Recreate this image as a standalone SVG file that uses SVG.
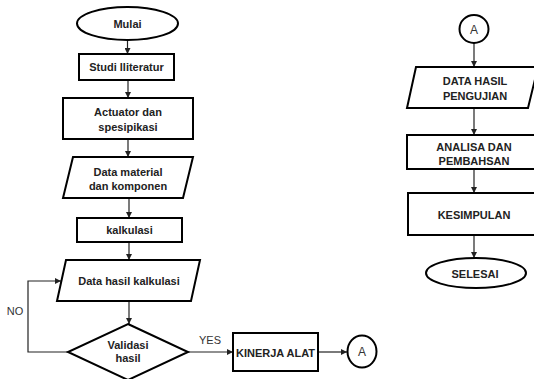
<svg xmlns="http://www.w3.org/2000/svg" width="534" height="379" viewBox="0 0 534 379">
<defs>
<style>
.s{fill:#fff;stroke:#000;stroke-width:2}
.t{font-family:"Liberation Sans",Arial,sans-serif;font-weight:bold;font-size:11px;fill:#222;text-anchor:middle;dominant-baseline:central}
.r{font-family:"Liberation Sans",Arial,sans-serif;font-size:11px;fill:#333;text-anchor:middle;dominant-baseline:central}
.c{fill:none;stroke:#222;stroke-width:1.2}
</style>
<marker id="ah" viewBox="0 0 8 8" refX="8" refY="4" markerWidth="6" markerHeight="6" orient="auto" markerUnits="userSpaceOnUse">
<path d="M0,0 L8,4 L0,8 z" fill="#222"/>
</marker>
</defs>
<rect width="534" height="379" fill="#fff"/>
<g id="connectors">
<path class="c" d="M127.5,40 V54" marker-end="url(#ah)"/>
<path class="c" d="M128,80 V98" marker-end="url(#ah)"/>
<path class="c" d="M128,139 V157" marker-end="url(#ah)"/>
<path class="c" d="M129,198 V218" marker-end="url(#ah)"/>
<path class="c" d="M129,242 V260" marker-end="url(#ah)"/>
<path class="c" d="M129,301 V324" marker-end="url(#ah)"/>
<path class="c" d="M68,352 H28 V281 H61" marker-end="url(#ah)"/>
<path class="c" d="M188,352 H233" marker-end="url(#ah)"/>
<path class="c" d="M318,352 H347" marker-end="url(#ah)"/>
<path class="c" d="M474,43 V67" marker-end="url(#ah)"/>
<path class="c" d="M474,108 V135" marker-end="url(#ah)"/>
<path class="c" d="M474,169 V193" marker-end="url(#ah)"/>
<path class="c" d="M474,235 V258" marker-end="url(#ah)"/>
<text class="r" x="15" y="311">NO</text>
<text class="r" x="210" y="340">YES</text>
</g>
<g id="mulai">
<ellipse class="s" cx="127.5" cy="23.5" rx="50.5" ry="16.5"/>
<text class="t" x="127.5" y="24">Mulai</text>
</g>
<g id="studi">
<rect class="s" x="79" y="54" width="95" height="26"/>
<text class="t" x="126.5" y="67">Studi lliteratur</text>
</g>
<g id="actuator">
<rect class="s" x="63" y="98" width="130" height="41"/>
<text class="t" x="128" y="112">Actuator dan</text>
<text class="t" x="128" y="127">spesipikasi</text>
</g>
<g id="datamaterial">
<polygon class="s" points="73,157 193,157 183,198 63,198"/>
<text class="t" x="128" y="172">Data material</text>
<text class="t" x="128" y="186">dan komponen</text>
</g>
<g id="kalkulasi">
<rect class="s" x="77" y="218" width="105" height="24"/>
<text class="t" x="129.5" y="230">kalkulasi</text>
</g>
<g id="datahasil">
<polygon class="s" points="66,260 200,260 191,301 57,301"/>
<text class="t" x="129" y="281">Data hasil kalkulasi</text>
</g>
<g id="validasi">
<polygon class="s" points="128,324 188,352 128,380 68,352"/>
<text class="t" x="128" y="345">Validasi</text>
<text class="t" x="128" y="358">hasil</text>
</g>
<g id="kinerja">
<rect class="s" x="233" y="333" width="85" height="38"/>
<text class="t" x="275.5" y="353">KINERJA ALAT</text>
</g>
<g id="connA1">
<ellipse class="s" cx="362" cy="351.5" rx="14.5" ry="16"/>
<text class="r" x="362" y="352" style="font-size:12px">A</text>
</g>
<g id="connA2">
<ellipse class="s" cx="474" cy="29" rx="14.5" ry="14"/>
<text class="r" x="474" y="29.5" style="font-size:12px">A</text>
</g>
<g id="datapengujian">
<polygon class="s" points="416,67 538,67 528,108 407,108"/>
<text class="t" x="475" y="81">DATA HASIL</text>
<text class="t" x="475" y="96">PENGUJIAN</text>
</g>
<g id="analisa">
<rect class="s" x="407" y="135" width="134" height="34"/>
<text class="t" x="474" y="147">ANALISA DAN</text>
<text class="t" x="474" y="161">PEMBAHSAN</text>
</g>
<g id="kesimpulan">
<rect class="s" x="408" y="193" width="134" height="42"/>
<text class="t" x="474" y="215">KESIMPULAN</text>
</g>
<g id="selesai">
<ellipse class="s" cx="476" cy="273" rx="50" ry="15"/>
<text class="t" x="475" y="274">SELESAI</text>
</g>
</svg>
